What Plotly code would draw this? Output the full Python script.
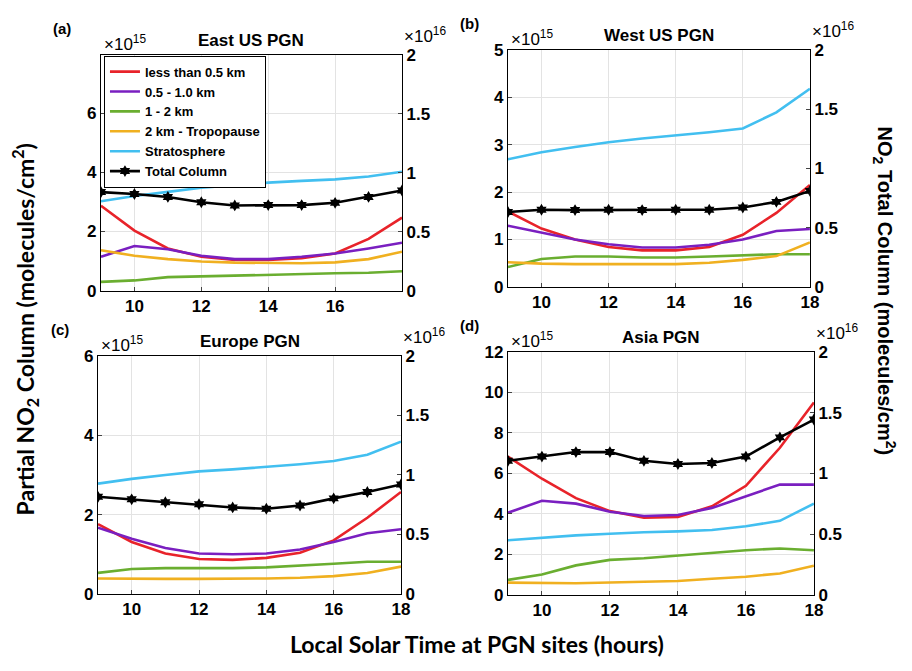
import plotly.graph_objects as go

hours = [9, 10, 11, 12, 13, 14, 15, 16, 17, 18]

series_names = ["less than 0.5 km", "0.5 - 1.0 km", "1 - 2 km", "2 km - Tropopause", "Stratosphere", "Total Column"]
series_colors = ["#E8232A", "#7A1FC0", "#6AAE30", "#F0B020", "#42BFF0", "#000000"]

# Panel (a) East US PGN  (partial: x1e15, total: x1e16)
a_lt05 = [2.87, 2.03, 1.43, 1.15, 1.04, 1.04, 1.10, 1.26, 1.75, 2.47]
a_05_1 = [1.15, 1.51, 1.40, 1.18, 1.07, 1.07, 1.15, 1.26, 1.43, 1.62]
a_1_2 = [0.30, 0.35, 0.46, 0.49, 0.52, 0.55, 0.57, 0.59, 0.61, 0.66]
a_2_tp = [1.37, 1.18, 1.07, 0.99, 0.95, 0.93, 0.93, 0.96, 1.07, 1.32]
a_strat = [3.02, 3.20, 3.34, 3.48, 3.56, 3.65, 3.71, 3.76, 3.86, 4.02]
a_total = [0.836, 0.82, 0.795, 0.75, 0.723, 0.726, 0.726, 0.745, 0.795, 0.85]

# Panel (b) West US PGN
b_lt05 = [1.59, 1.23, 1.00, 0.84, 0.77, 0.77, 0.84, 1.10, 1.56, 2.15]
b_05_1 = [1.29, 1.14, 1.00, 0.90, 0.83, 0.83, 0.89, 1.00, 1.18, 1.22]
b_1_2 = [0.42, 0.59, 0.64, 0.64, 0.62, 0.62, 0.64, 0.66, 0.69, 0.69]
b_2_tp = [0.52, 0.49, 0.48, 0.48, 0.47, 0.48, 0.51, 0.57, 0.65, 0.94]
b_strat = [2.69, 2.84, 2.95, 3.05, 3.13, 3.19, 3.26, 3.34, 3.68, 4.18]
b_total = [0.632, 0.651, 0.648, 0.651, 0.648, 0.651, 0.651, 0.67, 0.717, 0.81]

# Panel (c) Europe PGN
c_lt05 = [1.76, 1.31, 1.02, 0.88, 0.86, 0.91, 1.04, 1.35, 1.92, 2.57]
c_05_1 = [1.67, 1.39, 1.16, 1.02, 1.00, 1.02, 1.12, 1.31, 1.53, 1.63]
c_1_2 = [0.53, 0.63, 0.65, 0.65, 0.65, 0.67, 0.71, 0.76, 0.81, 0.81]
c_2_tp = [0.39, 0.38, 0.38, 0.38, 0.38, 0.39, 0.41, 0.45, 0.53, 0.69]
c_strat = [2.78, 2.90, 3.00, 3.09, 3.14, 3.20, 3.27, 3.35, 3.51, 3.84]
c_total = [0.816, 0.795, 0.77, 0.754, 0.727, 0.716, 0.743, 0.803, 0.857, 0.92]

# Panel (d) Asia PGN
d_lt05 = [6.83, 5.74, 4.78, 4.14, 3.82, 3.85, 4.38, 5.39, 7.27, 9.51]
d_05_1 = [4.06, 4.65, 4.51, 4.11, 3.90, 3.95, 4.30, 4.86, 5.45, 5.45]
d_1_2 = [0.74, 1.01, 1.46, 1.73, 1.81, 1.94, 2.10, 2.21, 2.29, 2.21]
d_2_tp = [0.61, 0.58, 0.58, 0.61, 0.66, 0.69, 0.80, 0.90, 1.06, 1.44]
d_strat = [2.70, 2.82, 2.94, 3.02, 3.10, 3.14, 3.21, 3.39, 3.66, 4.51]
d_total = [1.104, 1.139, 1.176, 1.176, 1.104, 1.078, 1.086, 1.139, 1.297, 1.444]

panel_titles = ["East US PGN", "West US PGN", "Europe PGN", "Asia PGN"]
panel_tags = ["(a)", "(b)", "(c)", "(d)"]
left_ranges = [[0, 7.97], [0, 5], [0, 6], [0, 12]]
left_ticks = [[0, 2, 4, 6], [0, 1, 2, 3, 4, 5], [0, 2, 4, 6], [0, 2, 4, 6, 8, 10, 12]]
x_ticks = [[10, 12, 14, 16], [10, 12, 14, 16, 18], [10, 12, 14, 16, 18], [10, 12, 14, 16, 18]]
right_ticks = [0, 0.5, 1, 1.5, 2]
right_ticklabels = ["0", "0.5", "1", "1.5", "2"]

panels = [
    [a_lt05, a_05_1, a_1_2, a_2_tp, a_strat, a_total],
    [b_lt05, b_05_1, b_1_2, b_2_tp, b_strat, b_total],
    [c_lt05, c_05_1, c_1_2, c_2_tp, c_strat, c_total],
    [d_lt05, d_05_1, d_1_2, d_2_tp, d_strat, d_total],
]

W, H = 912, 671
# pixel boxes (left, right, top, bottom)
boxes = [(102, 406, 47, 290), (513, 818, 42, 286), (99, 405, 357, 602), (513, 822, 353, 603)]

def px(x):
    return x / W

def py(y):
    return 1 - y / H

fig = go.Figure()
layout = {}
annotations = []
tickfont = dict(family="Arial", size=17, color="black", weight="bold")
gridc = "#E3E3E3"

for i, data in enumerate(panels):
    L, R, T, B = boxes[i]
    n = i + 1
    xa = "x" if n == 1 else f"x{n}"
    ya_l = f"y{2 * n - 1}" if n > 1 else "y"
    ya_r = f"y{2 * n}"
    xkey = "xaxis" if n == 1 else f"xaxis{n}"
    ylkey = "yaxis" if ya_l == "y" else f"yaxis{2 * n - 1}"
    yrkey = f"yaxis{2 * n}"
    for k in range(5):
        fig.add_trace(go.Scatter(
            x=hours, y=data[k], mode="lines", name=series_names[k],
            line=dict(color=series_colors[k], width=2.6),
            xaxis=xa, yaxis=ya_l, showlegend=(i == 0)))
    fig.add_trace(go.Scatter(
        x=hours, y=data[5], mode="lines+markers", name=series_names[5],
        line=dict(color="black", width=2.6),
        marker=dict(symbol="hexagram", size=9, color="black"),
        xaxis=xa, yaxis=ya_r, showlegend=(i == 0)))

    layout[xkey] = dict(domain=[px(L), px(R)], anchor=ya_l, range=[9, 18],
                        tickvals=x_ticks[i], ticks="inside", ticklen=4,
                        showline=True, linecolor="black", linewidth=1.2, mirror=True,
                        showgrid=True, gridcolor=gridc, gridwidth=1,
                        tickfont=tickfont, zeroline=False)
    layout[ylkey] = dict(domain=[py(B), py(T)], anchor=xa, range=left_ranges[i],
                         tickvals=left_ticks[i], ticks="inside", ticklen=4,
                         showline=True, linecolor="black", linewidth=1.2,
                         showgrid=True, gridcolor=gridc, gridwidth=1,
                         tickfont=tickfont, zeroline=False)
    layout[yrkey] = dict(domain=[py(B), py(T)], anchor=xa, overlaying=ya_l, side="right",
                         range=[0, 2], tickvals=right_ticks, ticktext=right_ticklabels,
                         ticks="inside", ticklen=4, showline=True, linecolor="black",
                         linewidth=1.2, showgrid=False, tickfont=tickfont, zeroline=False)

    # panel title
    annotations.append(dict(text=f"<b>{panel_titles[i]}</b>", x=px((L + R) / 2), y=py(T - 3),
                            xref="paper", yref="paper", xanchor="center", yanchor="bottom",
                            showarrow=False, font=dict(family="Arial", size=17, color="black")))
    # panel tag
    annotations.append(dict(text=f"<b>{panel_tags[i]}</b>", x=px(L - 50), y=py(T - 16),
                            xref="paper", yref="paper", xanchor="left", yanchor="bottom",
                            showarrow=False, font=dict(family="Arial", size=15, color="black")))
    # exponent labels
    annotations.append(dict(text="×10<sup>15</sup>", x=px(L + 1), y=py(T + 1),
                            xref="paper", yref="paper", xanchor="left", yanchor="bottom",
                            showarrow=False, font=dict(family="Arial", size=17, color="black")))
    annotations.append(dict(text="×10<sup>16</sup>", x=px(R), y=py(T - 7),
                            xref="paper", yref="paper", xanchor="left", yanchor="bottom",
                            showarrow=False, font=dict(family="Arial", size=17, color="black")))

annotations.append(dict(text="<b>Partial NO<sub>2</sub> Column (molecules/cm<sup>2</sup>)</b>",
                        x=px(25), y=py(330), xref="paper", yref="paper", textangle=-90,
                        showarrow=False, xanchor="center", yanchor="middle",
                        font=dict(family="Lato", size=23, color="black")))
annotations.append(dict(text="<b>NO<sub>2</sub> Total Column (molecules/cm<sup>2</sup>)</b>",
                        x=px(893), y=py(290), xref="paper", yref="paper", textangle=90,
                        showarrow=False, xanchor="center", yanchor="middle",
                        font=dict(family="Arial", size=20, color="black")))
annotations.append(dict(text="<b>Local Solar Time at PGN sites (hours)</b>",
                        x=px(482), y=py(654), xref="paper", yref="paper",
                        showarrow=False, xanchor="center", yanchor="middle",
                        font=dict(family="Lato", size=23, color="black")))

fig.update_layout(
    width=W, height=H, margin=dict(l=0, r=0, t=0, b=0, pad=0),
    paper_bgcolor="white", plot_bgcolor="white",
    showlegend=True,
    legend=dict(x=px(105), y=py(48), xanchor="left", yanchor="top",
                bgcolor="white", bordercolor="black", borderwidth=1,
                font=dict(family="Arial", size=13, color="black", weight="bold"),
                itemwidth=30, tracegroupgap=0),
    annotations=annotations,
    **layout,
)

fig.write_html("out.html")
